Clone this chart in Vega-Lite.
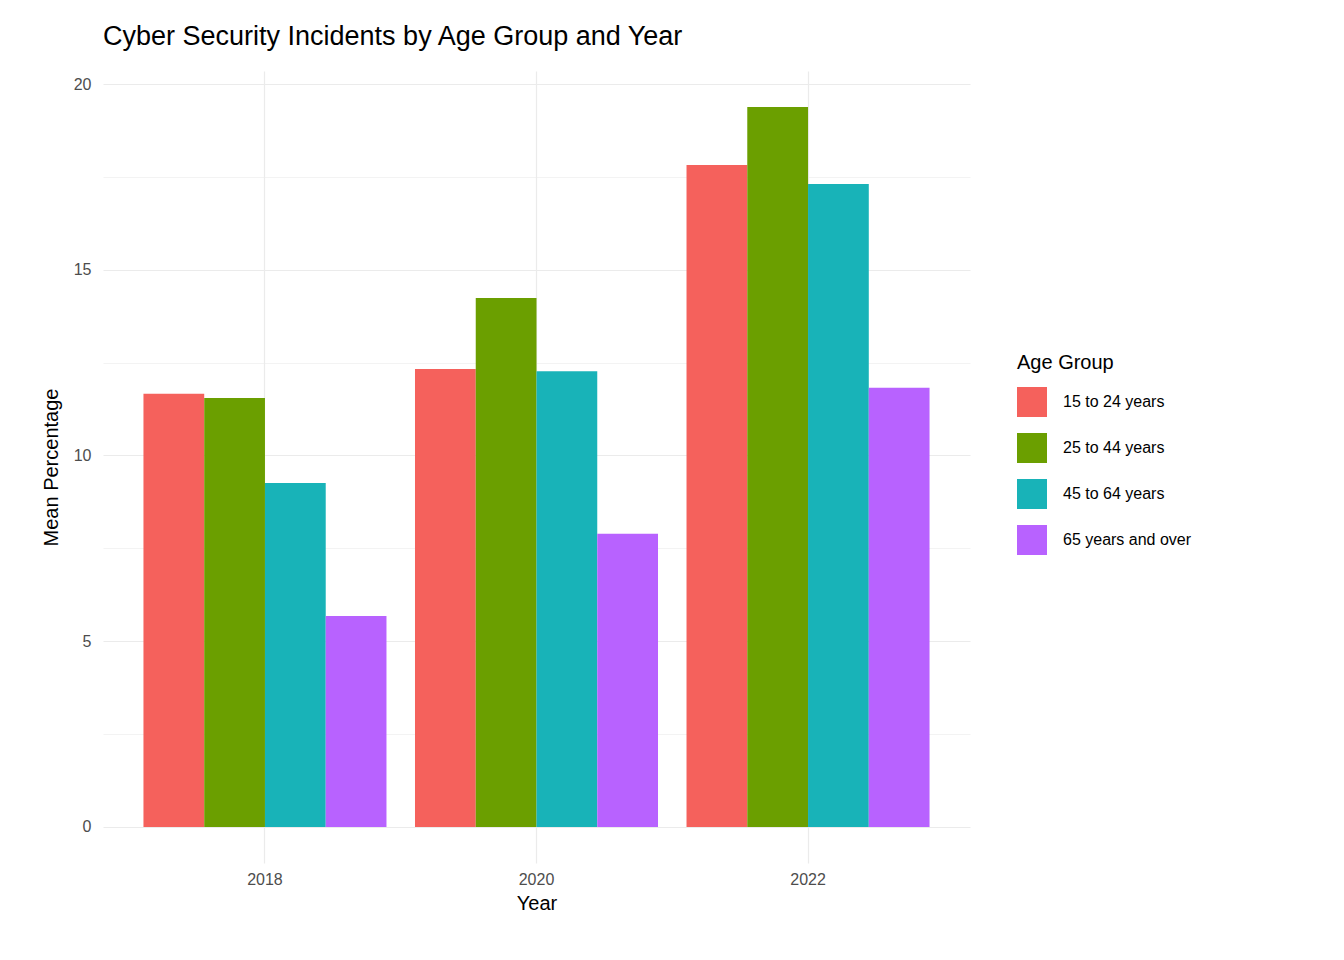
{
"$schema":"https://vega.github.io/schema/vega-lite/v6.json",
"autosize":{"type":"none"},
"padding":{"left":103,"top":71,"right":374,"bottom":97},
"width":867,"height":792,
"background":"white",
"title":{"text":"Cyber Security Incidents by Age Group and Year","anchor":"start","frame":"group","fontSize":27,"font":"Liberation Sans","fontWeight":"normal","color":"black","offset":20},
"data":{"values":[
{"Year":"2018","Age Group":"15 to 24 years","v":11.66},
{"Year":"2018","Age Group":"25 to 44 years","v":11.55},
{"Year":"2018","Age Group":"45 to 64 years","v":9.26},
{"Year":"2018","Age Group":"65 years and over","v":5.68},
{"Year":"2020","Age Group":"15 to 24 years","v":12.33},
{"Year":"2020","Age Group":"25 to 44 years","v":14.24},
{"Year":"2020","Age Group":"45 to 64 years","v":12.27},
{"Year":"2020","Age Group":"65 years and over","v":7.89},
{"Year":"2022","Age Group":"15 to 24 years","v":17.82},
{"Year":"2022","Age Group":"25 to 44 years","v":19.38},
{"Year":"2022","Age Group":"45 to 64 years","v":17.31},
{"Year":"2022","Age Group":"65 years and over","v":11.82}
]},
"mark":{"type":"bar"},
"encoding":{
"x":{"field":"Year","type":"nominal","scale":{"paddingInner":0.105,"paddingOuter":0.149},
 "axis":{"labelAngle":0,"bandPosition":0.5,"grid":true,"gridColor":"#EBEBEB","gridWidth":1.2,"domain":false,"ticks":false,"labelFontSize":16,"labelColor":"#4D4D4D","labelFont":"Liberation Sans","labelPadding":8,"title":"Year","titleFontSize":20,"titleFont":"Liberation Sans","titleFontWeight":"normal","titleColor":"black","titlePadding":6}},
"xOffset":{"field":"Age Group","type":"nominal","scale":{"paddingInner":0}},
"y":{"field":"v","type":"quantitative","scale":{"domain":[-0.97,20.35],"nice":false,"zero":false},
 "axis":{"values":[0,2.5,5,7.5,10,12.5,15,17.5,20],"labelExpr":"datum.value % 5 === 0 ? datum.label : ''","grid":true,"gridColor":"#EBEBEB","gridWidth":{"condition":{"test":"datum.value % 5 === 0","value":1.2},"value":0.6},"domain":false,"ticks":false,"labelFontSize":16,"labelColor":"#4D4D4D","labelFont":"Liberation Sans","labelPadding":12,"title":"Mean Percentage","titleFontSize":20,"titleFont":"Liberation Sans","titleFontWeight":"normal","titleColor":"black","titlePadding":12}},
"y2":{"datum":0},
"color":{"field":"Age Group","type":"nominal","scale":{"range":["#F5615C","#6B9F00","#18B3B8","#B862FF"]},
 "legend":{"orient":"none","legendX":914,"legendY":282,"symbolType":"square","symbolSize":900,"symbolStrokeWidth":0,"symbolOpacity":1,"labelFontSize":16,"labelFont":"Liberation Sans","labelColor":"black","labelOffset":16,"rowPadding":16,"titleFontSize":20,"titleFont":"Liberation Sans","titleFontWeight":"normal","titleColor":"black","titlePadding":14}}
},
"config":{"view":{"stroke":null}}
}
